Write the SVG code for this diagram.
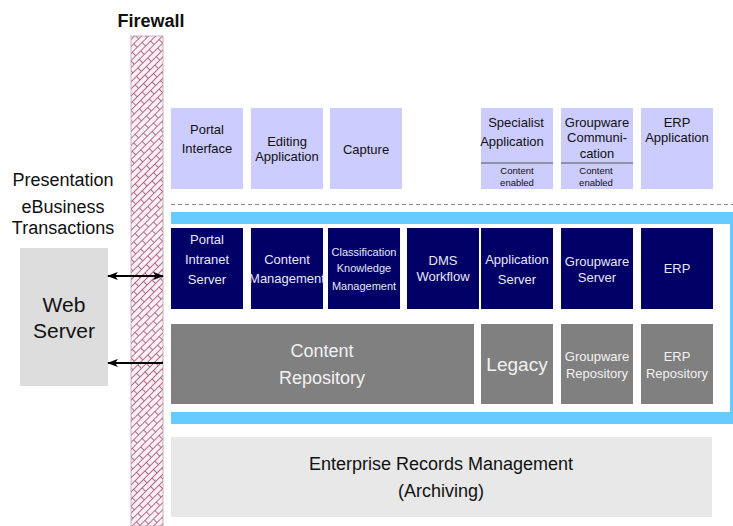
<svg xmlns="http://www.w3.org/2000/svg" width="733" height="526" viewBox="0 0 733 526">
<defs>
<pattern id="brick" width="14" height="10" patternUnits="userSpaceOnUse" patternTransform="rotate(-45)">
<rect width="14" height="10" fill="#fdf0f5"/>
<path d="M0 0.5H14M0 5.5H14M0.5 0.5V5.5M7.5 5.5V10.5" stroke="#a04a70" stroke-width="0.8" fill="none"/>
</pattern>
<marker id="ah" viewBox="0 0 12 10" refX="11" refY="5" markerWidth="12" markerHeight="9" orient="auto-start-reverse" markerUnits="userSpaceOnUse">
<path d="M0 0.5L12 5L0 9.5L3 5Z" fill="#000"/>
</marker>
</defs>
<style>
text{font-family:"Liberation Sans",Arial,sans-serif;text-anchor:middle}
.app{fill:#ccccff}
.srv{fill:#000066}
.rep{fill:#808080}
.dk{fill:#111}
.lt{fill:#e6e6f6}
.gw{fill:#f2f2f2}
.f13{font-size:13px}
.f9{font-size:9.5px}
.f11{font-size:11px}
</style>

<g id="firewall">
<rect x="131" y="36" width="32" height="490" fill="url(#brick)" stroke="#b9a0aa" stroke-width="0.8"/>
<text x="151" y="27" style="font-size:18px;font-weight:bold" class="dk">Firewall</text>
</g>

<g id="presentation-label">
<text x="63" y="186" style="font-size:18px" class="dk">Presentation</text>
<text x="63" y="213" style="font-size:18px" class="dk">eBusiness</text>
<text x="63" y="234" style="font-size:18px" class="dk">Transactions</text>
</g>

<g id="web-server">
<rect x="20" y="248" width="88" height="138" fill="#dddddd"/>
<text x="64" y="312" style="font-size:21px" class="dk">Web</text>
<text x="64" y="338" style="font-size:21px" class="dk">Server</text>
</g>

<g id="portal-interface">
<rect x="171" y="108" width="72" height="81" class="app"/>
<text x="207" y="134" class="f13 dk">Portal</text>
<text x="207" y="153" class="f13 dk">Interface</text>
</g>
<g id="editing-application">
<rect x="251" y="108" width="72" height="81" class="app"/>
<text x="287" y="146" class="f13 dk">Editing</text>
<text x="287" y="161" class="f13 dk">Application</text>
</g>
<g id="capture">
<rect x="330" y="108" width="72" height="81" class="app"/>
<text x="366" y="154" class="f13 dk">Capture</text>
</g>
<g id="specialist-application">
<rect x="481" y="108" width="72" height="81" class="app"/>
<text x="516" y="127" class="f13 dk">Specialist</text>
<text x="512" y="146" class="f13 dk">Application</text>
<line x1="481" y1="163" x2="553" y2="163" stroke="#555" stroke-width="1.2"/>
<text x="517" y="174" class="f9 dk">Content</text>
<text x="517" y="186" class="f9 dk">enabled</text>
</g>
<g id="groupware-communication">
<rect x="561" y="108" width="72" height="81" class="app"/>
<text x="597" y="127" class="f13 dk">Groupware</text>
<text x="597" y="142" class="f13 dk">Communi-</text>
<text x="597" y="158" class="f13 dk">cation</text>
<line x1="561" y1="163" x2="633" y2="163" stroke="#555" stroke-width="1.2"/>
<text x="596" y="174" class="f9 dk">Content</text>
<text x="596" y="186" class="f9 dk">enabled</text>
</g>
<g id="erp-application">
<rect x="641" y="108" width="72" height="81" class="app"/>
<text x="677" y="127" class="f13 dk">ERP</text>
<text x="677" y="142" class="f13 dk">Application</text>
</g>

<g id="separator">
<line x1="171" y1="204.5" x2="733" y2="204.5" stroke="#888" stroke-width="1" stroke-dasharray="4 3"/>
</g>

<g id="integration-frame">
<path d="M171 212H733V424H171V412H730V224H171Z" fill="#66ccff"/>
</g>

<g id="portal-intranet-server">
<rect x="171" y="228" width="72" height="81" class="srv"/>
<text x="207" y="244" class="f13 lt">Portal</text>
<text x="207" y="264" class="f13 lt">Intranet</text>
<text x="207" y="284" class="f13 lt">Server</text>
</g>
<g id="content-management">
<rect x="251" y="228" width="72" height="81" class="srv"/>
<text x="287" y="264" class="f13 lt">Content</text>
<text x="287" y="283" class="f13 lt">Management</text>
</g>
<g id="classification-knowledge-management">
<rect x="328" y="228" width="72" height="81" class="srv"/>
<text x="364" y="256" class="f11 lt">Classification</text>
<text x="364" y="272" class="f11 lt">Knowledge</text>
<text x="364" y="290" class="f11 lt">Management</text>
</g>
<g id="dms-workflow">
<rect x="407" y="228" width="72" height="81" class="srv"/>
<text x="443" y="265" class="f13 lt">DMS</text>
<text x="443" y="281" class="f13 lt">Workflow</text>
</g>
<g id="application-server">
<rect x="481" y="228" width="72" height="81" class="srv"/>
<text x="517" y="264" class="f13 lt">Application</text>
<text x="517" y="284" class="f13 lt">Server</text>
</g>
<g id="groupware-server">
<rect x="561" y="228" width="72" height="81" class="srv"/>
<text x="597" y="266" class="f13 lt">Groupware</text>
<text x="597" y="282" class="f13 lt">Server</text>
</g>
<g id="erp">
<rect x="641" y="228" width="72" height="81" class="srv"/>
<text x="677" y="273" class="f13 lt">ERP</text>
</g>

<g id="content-repository">
<rect x="171" y="324" width="303" height="80" class="rep"/>
<text x="322" y="357" style="font-size:18px" class="gw">Content</text>
<text x="322" y="384" style="font-size:18px" class="gw">Repository</text>
</g>
<g id="legacy">
<rect x="481" y="324" width="72" height="80" class="rep"/>
<text x="517" y="371" style="font-size:19px" class="gw">Legacy</text>
</g>
<g id="groupware-repository">
<rect x="561" y="324" width="72" height="80" class="rep"/>
<text x="597" y="361" class="f13 gw">Groupware</text>
<text x="597" y="378" class="f13 gw">Repository</text>
</g>
<g id="erp-repository">
<rect x="641" y="324" width="72" height="80" class="rep"/>
<text x="677" y="361" class="f13 gw">ERP</text>
<text x="677" y="378" class="f13 gw">Repository</text>
</g>

<g id="enterprise-records-management">
<rect x="171" y="437" width="541" height="80" fill="#e8e8e8"/>
<text x="441" y="470" style="font-size:18px" class="dk">Enterprise Records Management</text>
<text x="441" y="497" style="font-size:18px" class="dk">(Archiving)</text>
</g>

<g id="connectors" stroke="#000" stroke-width="2" fill="none">
<line x1="108" y1="276" x2="163" y2="276" marker-start="url(#ah)" marker-end="url(#ah)"/>
<line x1="163" y1="363" x2="108" y2="363" marker-end="url(#ah)"/>
</g>
</svg>
